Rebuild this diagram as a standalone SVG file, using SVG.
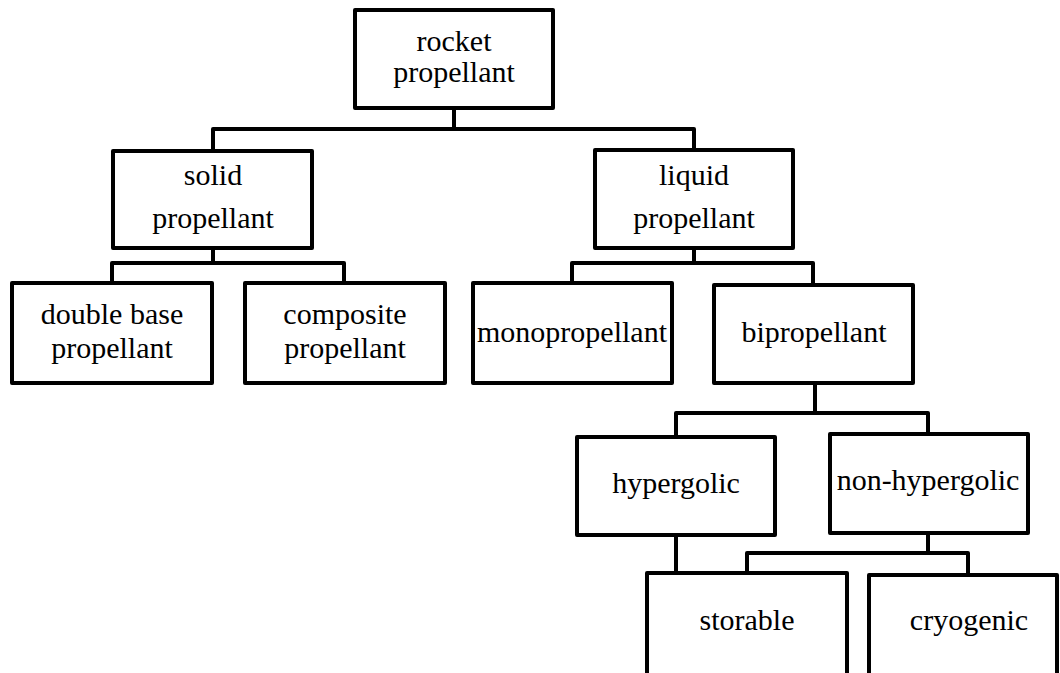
<svg xmlns="http://www.w3.org/2000/svg" width="1060" height="673" viewBox="0 0 1060 673">
<style>
.box{fill:#fff;stroke:#000;stroke-width:4;stroke-linejoin:round}
.conn{fill:none;stroke:#000;stroke-width:4;stroke-linejoin:round}
text{font-family:"Liberation Serif","Times New Roman",serif;font-size:30px;fill:#000;text-anchor:middle}
</style>
<rect width="1060" height="673" fill="#fff"/>
<g id="connectors">
<path class="conn" d="M454 108 V129 M213 151 V129 H694 V150"/>
<path class="conn" d="M213 248 V263 M112 283 V263 H344 V283"/>
<path class="conn" d="M694 248 V263 M572 283 V263 H813 V285"/>
<path class="conn" d="M815 383 V413 M676 437 V413 H928 V434"/>
<path class="conn" d="M676 535 V573"/>
<path class="conn" d="M928 533 V553 M747 573 V553 H968 V575"/>
</g>
<g id="root"><rect class="box" x="355" y="10" width="198" height="98"/><text x="454" y="51">rocket</text><text x="454" y="82">propellant</text></g>
<g id="solid"><rect class="box" x="113" y="151" width="199" height="97"/><text x="213" y="185">solid</text><text x="213" y="228">propellant</text></g>
<g id="liquid"><rect class="box" x="595" y="150" width="198" height="98"/><text x="694" y="185">liquid</text><text x="694" y="228">propellant</text></g>
<g id="doublebase"><rect class="box" x="12" y="283" width="200" height="100"/><text x="112" y="324">double base</text><text x="112" y="358">propellant</text></g>
<g id="composite"><rect class="box" x="245" y="283" width="200" height="100"/><text x="345" y="324">composite</text><text x="345" y="358">propellant</text></g>
<g id="mono"><rect class="box" x="473" y="283" width="199" height="100"/><text x="572" y="342">monopropellant</text></g>
<g id="bi"><rect class="box" x="714" y="285" width="199" height="98"/><text x="814" y="342">bipropellant</text></g>
<g id="hypergolic"><rect class="box" x="577" y="437" width="198" height="98"/><text x="676" y="493">hypergolic</text></g>
<g id="nonhypergolic"><rect class="box" x="830" y="434" width="198" height="99"/><text x="928" y="490">non-hypergolic</text></g>
<g id="storable"><rect class="box" x="647" y="573" width="200" height="120"/><text x="747" y="630">storable</text></g>
<g id="cryogenic"><rect class="box" x="869" y="575" width="188" height="120"/><text x="969" y="630">cryogenic</text></g>
</svg>
